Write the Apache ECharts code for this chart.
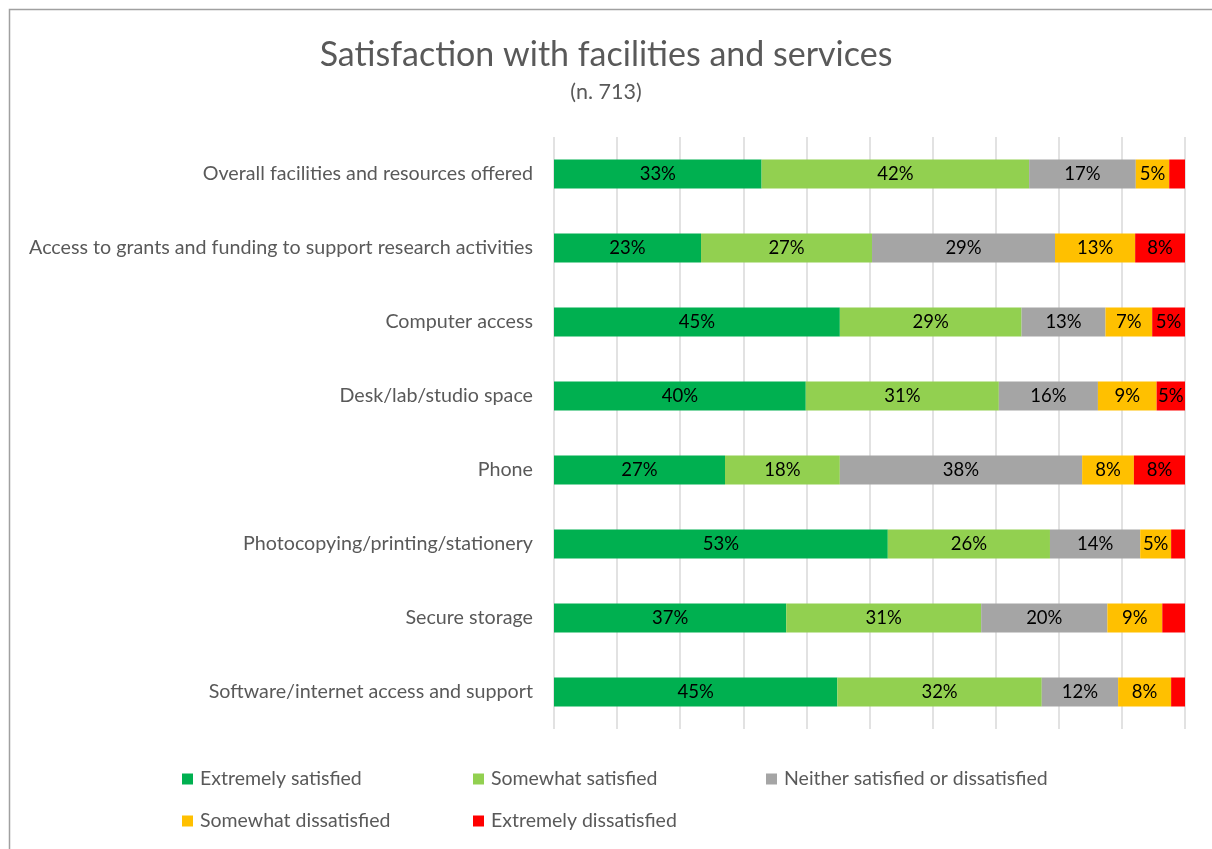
<!DOCTYPE html>
<html>
<head>
<meta charset="utf-8">
<title>Satisfaction with facilities and services</title>
<script src="https://cdn.jsdelivr.net/npm/echarts@6/dist/echarts.min.js"></script>
<style>
  html, body { margin: 0; padding: 0; background: #fff; }
  #chart { width: 1212px; height: 849px; }
</style>
</head>
<body>
<div id="chart"></div>
<script>
// Survey items, listed top to bottom
const categories = [
  'Overall facilities and resources offered',
  'Access to grants and funding to support research activities',
  'Computer access',
  'Desk/lab/studio space',
  'Phone',
  'Photocopying/printing/stationery',
  'Secure storage',
  'Software/internet access and support'
];

// Share of respondents (%) per response level
const extremelySatisfied    = [32.9, 23.3, 45.3, 39.9, 27.1, 52.9, 36.8, 44.9];
const somewhatSatisfied     = [42.4, 27.1, 28.8, 30.6, 18.2, 25.7, 30.9, 32.4];
const neither               = [16.9, 29.0, 13.3, 15.7, 38.4, 14.3, 20.0, 12.1];
const somewhatDissatisfied  = [5.3, 12.7, 7.4, 9.3, 8.2, 4.9, 8.7, 8.4];
const extremelyDissatisfied = [2.5, 7.9, 5.2, 4.5, 8.1, 2.2, 3.6, 2.2];

const seriesNames = [
  'Extremely satisfied',
  'Somewhat satisfied',
  'Neither satisfied or dissatisfied',
  'Somewhat dissatisfied',
  'Extremely dissatisfied'
];
const seriesData = [extremelySatisfied, somewhatSatisfied, neither, somewhatDissatisfied, extremelyDissatisfied];
const colors = ['#00B050', '#92D050', '#A5A5A5', '#FFC000', '#FF0000'];

const FONT = 'Lato, "Open Sans", sans-serif';
const TEXT_GREY = '#595959';

const series = seriesNames.map((name, i) => ({
  name: name,
  type: 'bar',
  stack: 'total',
  barWidth: 29,
  data: seriesData[i],
  itemStyle: { color: colors[i] },
  label: {
    show: true,
    position: 'inside',
    color: '#000',
    fontFamily: FONT,
    fontSize: 18.5,
    formatter: p => (p.value >= 4 ? Math.round(p.value) + '%' : '')
  },
  emphasis: { disabled: true }
}));

// One legend block per entry so the two-row layout keeps fixed columns
const legendSlots = [
  { left: 182, top: 769 },
  { left: 473, top: 769 },
  { left: 766, top: 769 },
  { left: 182, top: 811 },
  { left: 473, top: 811 }
];
const legends = seriesNames.map((name, i) => ({
  data: [name],
  left: legendSlots[i].left,
  top: legendSlots[i].top,
  padding: 0,
  itemWidth: 11,
  itemHeight: 11,
  itemGap: 0,
  icon: 'rect',
  selectedMode: false,
  textStyle: { color: TEXT_GREY, fontFamily: FONT, fontSize: 19.5, padding: [0, 0, 0, 2] }
}));

const chart = echarts.init(document.getElementById('chart'), null, { renderer: 'canvas' });
chart.setOption({
  animation: false,
  backgroundColor: '#fff',
  title: [
    {
      text: 'Satisfaction with facilities and services',
      left: 'center',
      top: 33,
      textStyle: { color: TEXT_GREY, fontFamily: FONT, fontSize: 34, fontWeight: 'normal' }
    },
    {
      text: '(n. 713)',
      left: 'center',
      top: 76,
      textStyle: { color: TEXT_GREY, fontFamily: FONT, fontSize: 21.5, fontWeight: 'normal' }
    }
  ],
  legend: legends,
  graphic: [
    {
      type: 'rect',
      shape: { x: 9.5, y: 9.5, width: 1400, height: 1000 },
      style: { fill: 'none', stroke: '#a0a0a0', lineWidth: 1.5 },
      silent: true,
      z: -1
    }
  ],
  grid: { left: 554, right: 27, top: 137, height: 592 },
  xAxis: {
    type: 'value',
    min: 0,
    max: 100,
    interval: 10,
    axisLabel: { show: false },
    axisLine: { show: false },
    axisTick: { show: false },
    splitLine: { show: true, lineStyle: { color: '#d9d9d9', width: 1.5 } }
  },
  yAxis: {
    type: 'category',
    data: categories,
    inverse: true,
    axisLine: { show: false },
    axisTick: { show: false },
    axisLabel: { color: TEXT_GREY, fontFamily: FONT, fontSize: 19.7, margin: 21 }
  },
  series: series
});
</script>
</body>
</html>
